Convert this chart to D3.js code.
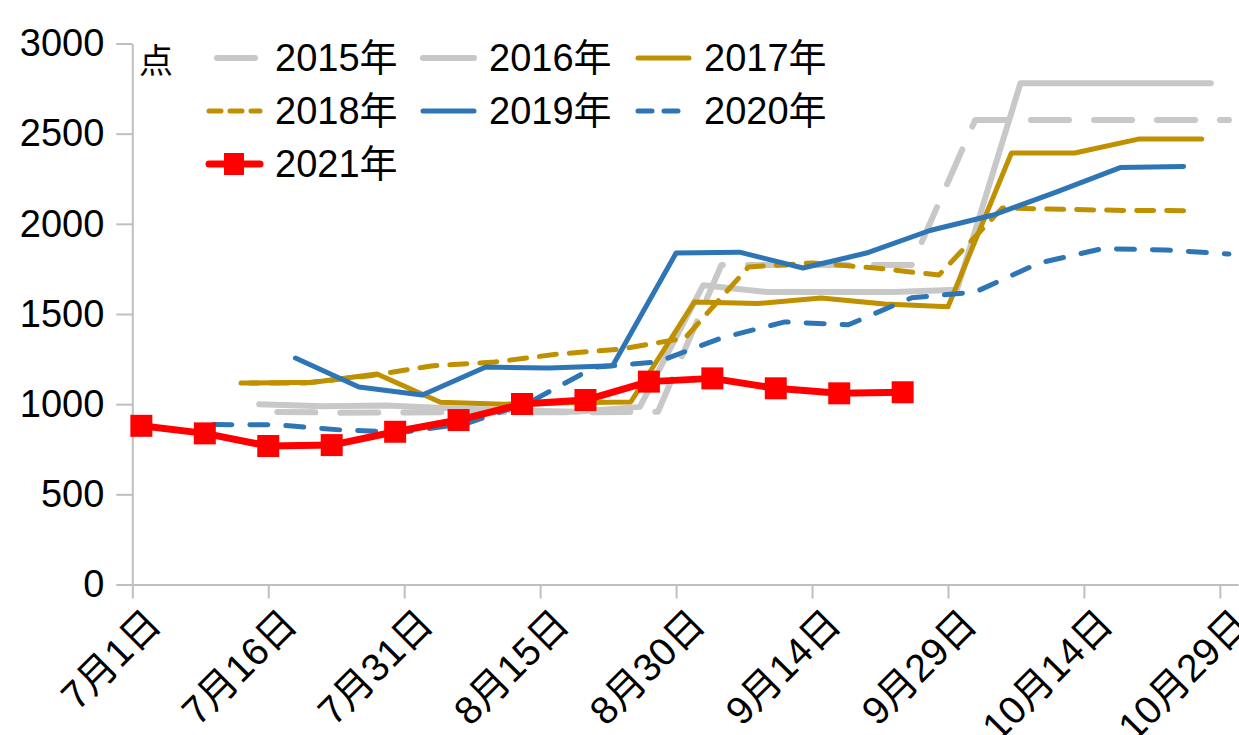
<!DOCTYPE html>
<html>
<head>
<meta charset="utf-8">
<script src="https://cdn.jsdelivr.net/npm/d3@7"></script>
<style>
body{margin:0;background:#fff;}
svg text{font-family:"Liberation Sans","Noto Sans CJK SC",sans-serif;fill:#000;}
</style>
</head>
<body>
<div id="chart"></div>
<script>
// weekly values, one array of dates and one of values per year
var dates2015 = ["7/17","7/24","7/31","8/7","8/14","8/21","8/28","9/4","9/11","9/18","9/25","10/2","10/9","10/16","10/23","10/30"];
var values2015 = [957, 953, 954, 955, 955, 955, 958, 1772, 1772, 1772, 1772, 2576, 2576, 2576, 2576, 2576];

var dates2016 = ["7/15","7/22","7/29","8/5","8/12","8/19","8/26","9/2","9/9","9/16","9/23","9/30","10/7","10/14","10/21","10/28"];
var values2016 = [1000, 988, 993, 978, 965, 958, 985, 1660, 1622, 1622, 1622, 1635, 2780, 2780, 2780, 2780];

var dates2017 = ["7/14","7/21","7/28","8/4","8/11","8/18","8/25","9/1","9/8","9/15","9/22","9/29","10/6","10/13","10/20","10/27"];
var values2017 = [1117, 1122, 1167, 1011, 1000, 1008, 1012, 1566, 1558, 1589, 1555, 1540, 2393, 2393, 2470, 2470];

var dates2018 = ["7/13","7/20","7/27","8/3","8/10","8/17","8/24","8/31","9/7","9/14","9/21","9/28","10/5","10/12","10/19","10/26"];
var values2018 = [1117, 1117, 1156, 1212, 1234, 1278, 1306, 1367, 1761, 1783, 1755, 1716, 2088, 2080, 2074, 2073];

var dates2019 = ["7/19","7/26","8/2","8/9","8/16","8/23","8/30","9/6","9/13","9/20","9/27","10/4","10/11","10/18","10/25"];
var values2019 = [1256, 1095, 1051, 1206, 1200, 1213, 1838, 1843, 1755, 1838, 1963, 2049, 2177, 2312, 2318];

var dates2020 = ["7/10","7/17","7/24","7/31","8/7","8/14","8/21","8/28","9/4","9/11","9/18","9/25","10/2","10/9","10/16","10/23","10/30"];
var values2020 = [887, 885, 857, 845, 895, 1015, 1205, 1235, 1367, 1456, 1440, 1590, 1622, 1782, 1862, 1855, 1833];

var dates2021 = ["7/2","7/9","7/16","7/23","7/30","8/6","8/13","8/20","8/27","9/3","9/10","9/17","9/24"];
var values2021 = [880, 838, 768, 773, 847, 912, 1001, 1023, 1125, 1143, 1088, 1060, 1066];

var seriesNames = ["2015年","2016年","2017年","2018年","2019年","2020年","2021年"];
var yTicks = [0, 500, 1000, 1500, 2000, 2500, 3000];
var xStart = "7/1", xEnd = "10/31";
var unitLabel = "点";

var width = 1239, height = 735;
var parse = d3.utcParse("%m/%d");

var styles = [
    {color:"#c8c8c8", w:6, dash:"38,25", legDash:null, legStart:10, legEnd:48},
    {color:"#c8c8c8", w:6, dash:null},
    {color:"#bf9000", w:5, dash:null},
    {color:"#bf9000", w:5, dash:"17,13", legDash:"12,9"},
    {color:"#2e75b6", w:5, dash:null},
    {color:"#2e75b6", w:5, dash:"18,18", legDash:"14,12"},
    {color:"#ff0000", w:7, dash:null, marker:true}
];

var allDates = [dates2015, dates2016, dates2017, dates2018, dates2019, dates2020, dates2021];
var allValues = [values2015, values2016, values2017, values2018, values2019, values2020, values2021];

var series = seriesNames.map(function(name, i){
    return {
        name: name,
        style: styles[i],
        points: allDates[i].map(function(d, j){ return {date: parse(d), value: allValues[i][j]}; })
    };
});

var svg = d3.select("#chart").append("svg")
    .attr("width", width)
    .attr("height", height);

var x = d3.scaleUtc()
    .domain([parse(xStart), parse(xEnd)])
    .range([132.3, 1238]);

var y = d3.scaleLinear()
    .domain([0, 3000])
    .range([584.5, 43.5]);

// axes
var xTicks = d3.range(0, 121, 15).map(function(k){ return d3.utcDay.offset(parse(xStart), k); });

var gx = svg.append("g")
    .attr("transform", "translate(0," + y(0) + ")")
    .call(d3.axisBottom(x)
        .tickValues(xTicks)
        .tickSize(14)
        .tickSizeOuter(0)
        .tickFormat(d3.utcFormat("%-m月%-d日")));

gx.selectAll("text")
    .attr("x", 0).attr("y", 0)
    .attr("dy", "0.35em")
    .attr("transform", "translate(21,32) rotate(-45)")
    .style("text-anchor", "end")
    .style("font-size", "39px");

var gy = svg.append("g")
    .attr("transform", "translate(" + x.range()[0] + ",0)")
    .call(d3.axisLeft(y)
        .tickValues(yTicks)
        .tickSize(16)
        .tickSizeOuter(0)
        .tickPadding(12)
        .tickFormat(d3.format("d")));

gy.selectAll("text").style("font-size", "38px");

svg.selectAll(".domain").attr("stroke", "#bfbfbf").attr("stroke-width", 2);
svg.selectAll(".tick line").attr("stroke", "#bfbfbf").attr("stroke-width", 2);

svg.append("text")
    .attr("x", 139)
    .attr("y", 61)
    .attr("dy", "0.35em")
    .style("font-size", "34px")
    .text(unitLabel);

// lines
var line = d3.line()
    .x(function(d){ return x(d.date); })
    .y(function(d){ return y(d.value); });

svg.selectAll(".series")
    .data(series)
    .enter().append("path")
    .attr("class", "series")
    .attr("d", function(d){ return line(d.points); })
    .attr("fill", "none")
    .attr("stroke", function(d){ return d.style.color; })
    .attr("stroke-width", function(d){ return d.style.w; })
    .attr("stroke-dasharray", function(d){ return d.style.dash; })
    .attr("stroke-linecap", "round")
    .attr("stroke-linejoin", "round");

var markSize = 22;
var red = series[6];
svg.selectAll(".mark")
    .data(red.points)
    .enter().append("rect")
    .attr("class", "mark")
    .attr("x", function(d){ return x(d.date) - markSize / 2; })
    .attr("y", function(d){ return y(d.value) - markSize / 2; })
    .attr("width", markSize)
    .attr("height", markSize)
    .attr("fill", red.style.color);

// legend, three per row
var legX = [207, 421, 636], legY = [58, 111, 164];
var leg = svg.selectAll(".leg")
    .data(series)
    .enter().append("g")
    .attr("class", "leg")
    .attr("transform", function(d, i){ return "translate(" + legX[i % 3] + "," + legY[Math.floor(i / 3)] + ")"; });

leg.append("line")
    .attr("x1", function(d){ return d.style.legStart || 2; })
    .attr("x2", function(d){ return d.style.legEnd || 53; })
    .attr("stroke", function(d){ return d.style.color; })
    .attr("stroke-width", function(d){ return d.style.w; })
    .attr("stroke-dasharray", function(d){ return d.style.legDash || null; })
    .attr("stroke-linecap", "round");

leg.filter(function(d){ return d.style.marker; })
    .append("rect")
    .attr("x", 27 - 10).attr("y", -11)
    .attr("width", 20).attr("height", 22)
    .attr("fill", function(d){ return d.style.color; });

leg.append("text")
    .attr("x", 68)
    .attr("dy", "0.35em")
    .style("font-size", "38px")
    .text(function(d){ return d.name; });
</script>
</body>
</html>
